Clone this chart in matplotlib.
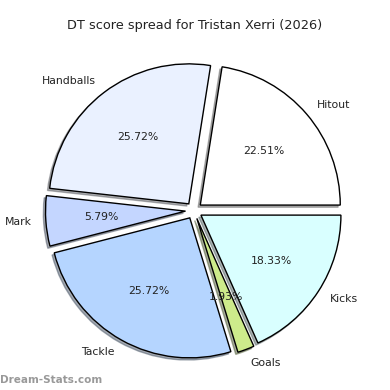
import matplotlib
matplotlib.use("Agg")
import matplotlib.pyplot as plt

# DT points per category
categories = ["Hitout", "Handballs", "Mark", "Tackle", "Goals", "Kicks"]
points = [70, 80, 18, 80, 6, 57]
colors = ["#ffffff", "#eaf1ff", "#c4d6ff", "#b5d5ff", "#cdeb8b", "#d9ffff"]
player = "Tristan Xerri"
season = 2026

fig = plt.figure(figsize=(3.9, 3.9), dpi=100)
ax = fig.add_axes([0, 0, 1, 1])

ax.pie(points, labels=categories, colors=colors, autopct="%.2f%%",
       explode=[0.06] * len(points),
       shadow={"ox": -0.011, "oy": -0.011, "shade": 0.6}, startangle=0,
       wedgeprops={"edgecolor": "black", "linewidth": 1},
       textprops={"fontsize": 7.8, "color": "#222222"})

ax.set_xlim(-1.385, 1.401)
ax.set_ylim(-1.282, 1.504)
ax.set_aspect("equal")
ax.axis("off")

fig.text(0.5, 1 - 25 / 390, "DT score spread for %s (%d)" % (player, season),
         ha="center", va="center", fontsize=9.3, color="#222222")
fig.text(0.0, 1 - 380 / 390, "Dream-Stats.com", ha="left", va="center",
         fontsize=7.5, fontweight="bold", color="#999999")

fig.savefig("out.png", dpi=100)
